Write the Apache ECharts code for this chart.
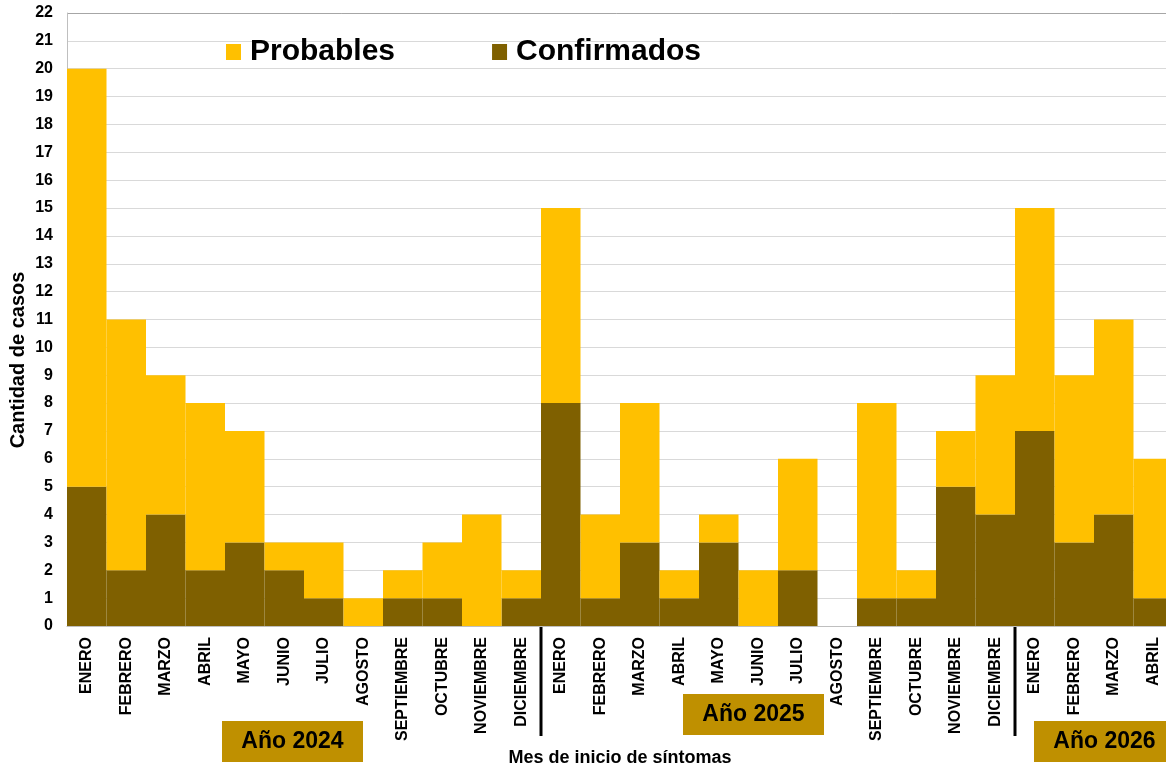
<!DOCTYPE html>
<html><head><meta charset="utf-8">
<script src="https://cdn.jsdelivr.net/npm/echarts@6/dist/echarts.min.js"></script>
<style>html,body{margin:0;padding:0;background:#fff}#c{width:1166px;height:767px}</style>
</head><body><div id="c"></div>
<script>
const months = ['ENERO','FEBRERO','MARZO','ABRIL','MAYO','JUNIO','JULIO','AGOSTO','SEPTIEMBRE','OCTUBRE','NOVIEMBRE','DICIEMBRE',
 'ENERO','FEBRERO','MARZO','ABRIL','MAYO','JUNIO','JULIO','AGOSTO','SEPTIEMBRE','OCTUBRE','NOVIEMBRE','DICIEMBRE',
 'ENERO','FEBRERO','MARZO','ABRIL'];
const confirmados = [5,2,4,2,3,2,1,0,1,1,0,1, 8,1,3,1,3,0,2,0,1,1,5,4, 7,3,4,1];
const probables   = [15,9,5,6,4,1,2,1,1,2,4,1, 7,3,5,1,1,2,4,0,7,1,2,5, 8,6,7,5];
const yearLabels = ['Año 2024','Año 2025','Año 2026'];
const yTicks = {min:0, max:22, interval:1};
const yTitle = 'Cantidad de casos';

const FONT = 'Liberation Sans, Arial, sans-serif';
const cats = months.map((m,i)=>i+'|'+m);
const chart = echarts.init(document.getElementById('c'), null, {renderer:'canvas'});
chart.setOption({
  animation:false,
  grid:{left:67, right:-7, top:13, bottom:141, outerBoundsMode:'none', containLabel:false},
  legend:{data:['Probables','Confirmados'], left:221, top:32, itemWidth:15, itemHeight:16, itemGap:97,
    icon:'rect', textStyle:{fontFamily:FONT, fontWeight:'bold', fontSize:30, color:'#000', padding:[0,0,0,4]}},
  xAxis:{type:'category', data:cats,
    axisLine:{lineStyle:{color:'#bfbfbf'}}, axisTick:{show:false},
    axisLabel:{rotate:90, interval:0, margin:11, fontFamily:FONT, fontWeight:'bold', fontSize:16, color:'#000',
      formatter:v=>v.split('|')[1]},
    name:'Mes de inicio de síntomas', nameLocation:'middle', nameGap:119,
    nameTextStyle:{fontFamily:FONT, fontWeight:'bold', fontSize:18, color:'#000'}},
  yAxis:{type:'value', min:yTicks.min, max:yTicks.max, interval:yTicks.interval,
    axisLine:{show:true, lineStyle:{color:'#bfbfbf'}},
    splitLine:{lineStyle:{color:'#d9d9d9'}},
    axisLabel:{fontFamily:FONT, fontWeight:'bold', fontSize:16, color:'#000', margin:14}},
  series:[
    {name:'Confirmados', type:'bar', stack:'a', data:confirmados, barCategoryGap:'0%', itemStyle:{color:'#7F6000'}},
    {name:'Probables', type:'bar', stack:'a', data:probables, barCategoryGap:'0%', itemStyle:{color:'#FFC000'}}
  ]
});
const x0 = chart.convertToPixel({xAxisIndex:0}, cats[11]);
const x1 = chart.convertToPixel({xAxisIndex:0}, cats[12]);
const x2 = chart.convertToPixel({xAxisIndex:0}, cats[23]);
const x3 = chart.convertToPixel({xAxisIndex:0}, cats[24]);
const sepA = (x0+x1)/2, sepB = (x2+x3)/2;
const yBase = chart.convertToPixel({yAxisIndex:0}, 0);
function box(x,y,t){
  return {type:'group', left:x, top:y, children:[
    {type:'rect', shape:{x:0,y:0,width:141,height:41}, style:{fill:'#BF9000'}},
    {type:'text', x:70.5, y:21, style:{text:t, fill:'#000', font:'bold 23px '+FONT, textAlign:'center', textVerticalAlign:'middle'}}
  ]};
}
chart.setOption({graphic:[
  {type:'line', shape:{x1:sepA,y1:yBase,x2:sepA,y2:yBase+110}, style:{stroke:'#000', lineWidth:3}},
  {type:'line', shape:{x1:sepB,y1:yBase,x2:sepB,y2:yBase+110}, style:{stroke:'#000', lineWidth:3}},
  {type:'line', shape:{x1:67,y1:13.5,x2:1166,y2:13.5}, style:{stroke:'#a6a6a6', lineWidth:1}},
  {type:'text', x:18.5, y:360, rotation:Math.PI/2,
    style:{text:yTitle, fill:'#000', font:'bold 20px '+FONT, textAlign:'center', textVerticalAlign:'middle'}},
  box(222,721,yearLabels[0]), box(683,694,yearLabels[1]), box(1034,721,yearLabels[2])
]});
</script></body></html>
